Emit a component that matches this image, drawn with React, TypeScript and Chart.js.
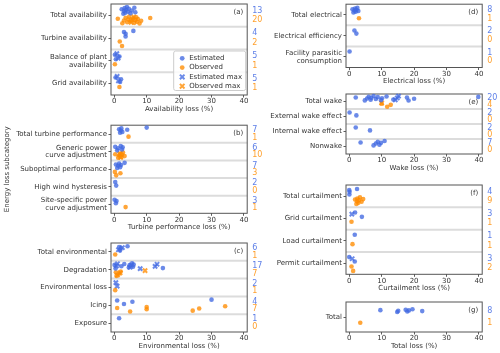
import React, { useEffect, useRef } from 'react';
import { Chart, registerables } from 'chart.js';

Chart.register(...registerables);

const FONT = 'DejaVu Sans';
const TEXT = '#333333';
const FRAME = '#555555';
const SEP = '#dcdcdc';
const BLUE = 'rgba(65,105,225,0.78)';
const ORANGE = 'rgba(255,140,0,0.78)';
const BLUE_TXT = 'rgb(95,128,232)';
const ORANGE_TXT = 'rgb(255,160,45)';

const X_TICKS = [0, 10, 20, 30, 40];
const X_MIN = -1;
const X_MAX = 41;

// (a) availability
const availCats = ['Total availability', 'Turbine availability', ['Balance of plant', 'availability'], 'Grid availability'];
const availEst = [[2.3, 2.8, 3.0, 3.2, 3.4, 3.6, 3.9, 4.2, 4.5, 5.0, 5.4, 6.2, 6.5], [3.0, 3.5, 3.5, 5.9], [0.2, 0.5, 1.6], [0.4, 1.8, 2.1]];
const availEstMax = [[], [], [0.8, 1.2], [0.9, 1.3]];
const availObs = [[1.1, 2.5, 3.0, 3.5, 4.0, 4.3, 4.6, 5.0, 5.8, 6.2, 6.5, 6.8, 7.0, 7.3, 7.8, 8.3, 11.1], [1.7, 2.4], [0.2], [1.6]];
const availObsMax = [[5.2, 5.5, 6.0], [], [], []];

// (b) turbine performance
const perfCats = ['Total turbine performance', ['Generic power', 'curve adjustment'], 'Suboptimal performance', 'High wind hysteresis', ['Site-specific power', 'curve adjustment']];
const perfEst = [[1.5, 1.8, 2.0, 2.2, 2.5, 4.0, 10.0], [0.3, 0.9, 1.2, 2.0, 2.4, 2.6], [0.5, 0.9, 1.2, 1.5, 1.8, 2.1, 3.2], [0.3, 0.6], [0.1, 0.5, 0.7]];
const perfEstMax = [[], [], [], [], []];
const perfObs = [[4.4], [0.3, 1.2, 1.5, 1.9, 2.2, 2.4, 2.7, 3.2], [0.2, 0.6, 1.9], [], [3.5]];
const perfObsMax = [[], [1.7, 2.0], [], [], []];

// (c) environmental
const envCats = ['Total environmental', 'Degradation', 'Environmental loss', 'Icing', 'Exposure'];
const envEst = [[1.5, 1.8, 2.0, 4.1], [0.1, 0.4, 2.2, 3.1, 4.5, 4.7, 5.5, 5.8, 6.0, 15.0], [], [0.9, 3.0, 5.6, 30.0], [1.5]];
const envEstMax = [[1.3, 2.5], [0.7, 1.0, 4.9, 5.2, 8.0, 12.6, 13.2], [0.5, 0.9], [], []];
const envObs = [[0.3], [0.5, 0.7, 1.5, 2.0], [0.3], [0.9, 4.9, 10.0, 10.0, 24.2, 26.2, 34.2], []];
const envObsMax = [[], [1.0, 1.8, 9.5], [], [], []];

// (d) electrical
const elecCats = ['Total electrical', 'Electrical efficiency', ['Facility parasitic', 'consumption']];
const elecEst = [[1.0, 1.3, 1.6, 1.8, 2.0, 2.2, 2.5, 2.8], [1.6, 2.2], [0.1]];
const elecEstMax = [[], [], []];
const elecObs = [[3.0], [], []];
const elecObsMax = [[], [], []];

// (e) wake
const wakeCats = ['Total wake', 'External wake effect', 'Internal wake effect', 'Nonwake'];
const wakeEst = [[2.0, 4.8, 5.5, 6.0, 6.6, 6.8, 7.5, 8.2, 8.8, 9.8, 10.1, 11.5, 13.6, 17.8, 18.3, 20.0, 39.8], [0.1, 2.2], [2.0, 6.4], [3.5, 7.5, 8.2, 8.8, 9.3, 9.8, 10.9]];
const wakeEstMax = [[14.2, 14.8, 15.2], [], [], []];
const wakeObs = [[10.0, 11.7, 12.8], [], [], []];
const wakeObsMax = [[10.0], [], [], []];

// (f) curtailment
const curtCats = ['Total curtailment', 'Grid curtailment', 'Load curtailment', 'Permit curtailment'];
const curtEst = [[0.0, 0.05, 0.1, 2.4], [1.8, 3.9], [1.7], [0.0, 1.7]];
const curtEstMax = [[], [0.8], [], [0.9]];
const curtObs = [[1.8, 2.2, 2.4, 2.5, 2.8, 3.0, 3.3, 3.8, 4.3], [0.7], [1.0], [0.7, 1.2]];
const curtObsMax = [[], [], [], []];

// (g) total
const totalCats = ['Total'];
const totalEst = [[9.6, 14.8, 15.1, 17.4, 17.9, 18.4, 19.5, 22.5]];
const totalEstMax = [[]];
const totalObs = [[3.4]];
const totalObsMax = [[]];

const SERIES_LABELS = ['Estimated', 'Observed', 'Estimated max', 'Observed max'];

type Panel = {
  cats: (string | string[])[];
  est: number[][];
  estMax: number[][];
  obs: number[][];
  obsMax: number[][];
  xTitle: string;
  tag: string;
  col: 'L' | 'R';
  top: number;
  bottom: number;
  jitter: number;
  legend?: boolean;
  yTitle?: string;
};

const COLS = {
  L: { left: 0, width: 264, plotLeft: 111, plotRight: 247.2 },
  R: { left: 264, width: 236, plotLeft: 82, plotRight: 218.2 },
};

const PANELS: Panel[] = [
  { cats: availCats, est: availEst, estMax: availEstMax, obs: availObs, obsMax: availObsMax, xTitle: 'Availability loss (%)', tag: '(a)', col: 'L', top: 1.5, bottom: 95, jitter: 0.16, legend: true },
  { cats: perfCats, est: perfEst, estMax: perfEstMax, obs: perfObs, obsMax: perfObsMax, xTitle: 'Turbine performance loss (%)', tag: '(b)', col: 'L', top: 122.3, bottom: 213.3, jitter: 0.16, yTitle: 'Energy loss subcategory' },
  { cats: envCats, est: envEst, estMax: envEstMax, obs: envObs, obsMax: envObsMax, xTitle: 'Environmental loss (%)', tag: '(c)', col: 'L', top: 240.3, bottom: 332, jitter: 0.16 },
  { cats: elecCats, est: elecEst, estMax: elecEstMax, obs: elecObs, obsMax: elecObsMax, xTitle: 'Electrical loss (%)', tag: '(d)', col: 'R', top: 1.5, bottom: 67.5, jitter: 0.12 },
  { cats: wakeCats, est: wakeEst, estMax: wakeEstMax, obs: wakeObs, obsMax: wakeObsMax, xTitle: 'Wake loss (%)', tag: '(e)', col: 'R', top: 91, bottom: 154, jitter: 0.16 },
  { cats: curtCats, est: curtEst, estMax: curtEstMax, obs: curtObs, obsMax: curtObsMax, xTitle: 'Curtailment loss (%)', tag: '(f)', col: 'R', top: 182, bottom: 274.3, jitter: 0.16 },
  { cats: totalCats, est: totalEst, estMax: totalEstMax, obs: totalObs, obsMax: totalObsMax, xTitle: 'Total loss (%)', tag: '(g)', col: 'R', top: 299.5, bottom: 332, jitter: 0.05 },
];

const OFF = 0.21;
const X_AXIS_H = 18;

function jit(k: number, amp: number) {
  const f = (k * 0.6180339887 + 0.31) % 1;
  return (f - 0.5) * 2 * amp;
}

function buildPoints(groups: number[][], startGroups: number[][] | null, side: number, amp: number) {
  const pts: { x: number; y: number }[] = [];
  groups.forEach((vals, i) => {
    const start = startGroups ? startGroups[i].length : 0;
    vals.forEach((v, k) => {
      pts.push({ x: v, y: i + side * OFF + jit(start + k, amp) });
    });
  });
  return pts;
}

function PanelChart({ p }: { p: Panel }) {
  const ref = useRef<HTMLCanvasElement>(null);
  const col = COLS[p.col];
  const canvasTop = Math.floor(p.top) - 6;
  const padTop = p.top - canvasTop;
  const canvasBottom = Math.ceil(p.bottom + X_AXIS_H);
  const padBottom = canvasBottom - (p.bottom + X_AXIS_H);
  const height = canvasBottom - canvasTop;

  useEffect(() => {
    const n = p.cats.length;
    const counts: number[] = [];
    const countTicks: number[] = [];
    for (let i = 0; i < n; i++) {
      counts.push(p.est[i].length + p.estMax[i].length, p.obs[i].length + p.obsMax[i].length);
      countTicks.push(i - OFF, i + OFF);
    }

    const decor = {
      id: 'decor' + p.tag,
      beforeDatasetsDraw(chart: any) {
        const { ctx, chartArea } = chart;
        const ys = chart.scales.y;
        ctx.save();
        ctx.strokeStyle = SEP;
        ctx.lineWidth = 2;
        for (let i = 1; i < n; i++) {
          const y = ys.getPixelForValue(i - 0.5);
          ctx.beginPath();
          ctx.moveTo(chartArea.left, y);
          ctx.lineTo(chartArea.right, y);
          ctx.stroke();
        }
        ctx.strokeStyle = FRAME;
        ctx.lineWidth = 1;
        ctx.strokeRect(chartArea.left, chartArea.top, chartArea.right - chartArea.left, chartArea.bottom - chartArea.top);
        ctx.restore();
      },
      afterDatasetsDraw(chart: any) {
        const { ctx, chartArea } = chart;
        ctx.save();
        ctx.font = `7px "${FONT}"`;
        ctx.fillStyle = TEXT;
        ctx.textAlign = 'right';
        ctx.textBaseline = 'middle';
        ctx.fillText(p.tag, chartArea.right - 4, chartArea.top + 8);
        if (p.legend) {
          const w = 72;
          const h = 39.5;
          const x0 = chartArea.right - 1.5 - w;
          const y0 = chartArea.bottom - 4.5 - h;
          ctx.fillStyle = 'rgba(255,255,255,0.85)';
          ctx.strokeStyle = '#cccccc';
          ctx.lineWidth = 1;
          ctx.beginPath();
          (ctx as any).roundRect(x0, y0, w, h, 2);
          ctx.fill();
          ctx.stroke();
          chart.data.datasets.forEach((ds: any, idx: number) => {
            const cy = y0 + 7.3 + idx * 9.3;
            const mx = x0 + 8.5;
            const color = ds.pointStyle === 'circle' ? ds.backgroundColor : ds.borderColor;
            if (ds.pointStyle === 'circle') {
              ctx.fillStyle = color;
              ctx.beginPath();
              ctx.arc(mx, cy, 2.4, 0, Math.PI * 2);
              ctx.fill();
            } else {
              ctx.strokeStyle = color;
              ctx.lineWidth = 2;
              ctx.beginPath();
              ctx.moveTo(mx - 2.3, cy - 2.3);
              ctx.lineTo(mx + 2.3, cy + 2.3);
              ctx.moveTo(mx + 2.3, cy - 2.3);
              ctx.lineTo(mx - 2.3, cy + 2.3);
              ctx.stroke();
            }
            ctx.fillStyle = TEXT;
            ctx.textAlign = 'left';
            ctx.fillText(ds.label, x0 + 15.5, cy);
          });
        }
        ctx.restore();
      },
    };

    const circle = (label: string, color: string, data: any[]) => ({
      label, data, pointStyle: 'circle', backgroundColor: color, borderColor: color,
      pointRadius: 2.3, pointBorderWidth: 0, pointHoverRadius: 2.3, clip: false as any, showLine: false,
    });
    const cross = (label: string, color: string, data: any[]) => ({
      label, data, pointStyle: 'crossRot', backgroundColor: color, borderColor: color,
      pointRadius: 3, pointBorderWidth: 2, pointHoverRadius: 3, clip: false as any, showLine: false,
    });

    const chart = new Chart(ref.current as HTMLCanvasElement, {
      type: 'scatter',
      data: {
        datasets: [
          circle(SERIES_LABELS[0], BLUE, buildPoints(p.est, null, -1, p.jitter)),
          circle(SERIES_LABELS[1], ORANGE, buildPoints(p.obs, null, 1, p.jitter)),
          cross(SERIES_LABELS[2], BLUE, buildPoints(p.estMax, p.est, -1, p.jitter)),
          cross(SERIES_LABELS[3], ORANGE, buildPoints(p.obsMax, p.obs, 1, p.jitter)),
        ] as any,
      },
      options: {
        animation: false,
        responsive: false,
        maintainAspectRatio: false,
        events: [],
        layout: { padding: { top: padTop, bottom: padBottom, left: 0, right: 0 } },
        plugins: { legend: { display: false }, tooltip: { enabled: false } },
        scales: {
          x: {
            type: 'linear', position: 'bottom', min: X_MIN, max: X_MAX,
            afterBuildTicks: (s: any) => { s.ticks = X_TICKS.map((v) => ({ value: v })); },
            afterFit: (s: any) => { s.height = X_AXIS_H; },
            ticks: { font: { family: FONT, size: 7, lineHeight: 1 }, color: TEXT, padding: 0.5, maxRotation: 0, autoSkip: false },
            grid: { drawOnChartArea: false, drawTicks: true, tickLength: 2.5, color: TEXT, lineWidth: 0.8 },
            border: { display: false },
            title: { display: true, text: p.xTitle, font: { family: FONT, size: 7, lineHeight: 1.2 }, color: TEXT, padding: 0 },
          },
          y: {
            type: 'linear', position: 'left', min: -0.5, max: n - 0.5, reverse: true,
            afterBuildTicks: (s: any) => { s.ticks = p.cats.map((_, i) => ({ value: i })); },
            afterFit: (s: any) => { s.width = col.plotLeft; },
            ticks: {
              callback: (v: any) => p.cats[Math.round(Number(v))] as any,
              font: { family: FONT, size: 7, lineHeight: 1.1 }, color: TEXT, padding: 1.5, autoSkip: false,
            },
            grid: { drawOnChartArea: false, drawTicks: true, tickLength: 2.5, color: TEXT, lineWidth: 0.8 },
            border: { display: false },
            title: p.yTitle
              ? { display: true, text: p.yTitle, font: { family: FONT, size: 7, lineHeight: 1.2 }, color: TEXT, padding: { top: 3.3, bottom: 0 } }
              : { display: false },
          },
          y2: {
            type: 'linear', position: 'right', min: -0.5, max: n - 0.5, reverse: true,
            afterBuildTicks: (s: any) => { s.ticks = countTicks.map((v) => ({ value: v })); },
            afterFit: (s: any) => { s.width = col.width - col.plotRight; },
            ticks: {
              callback: (_v: any, idx: number) => String(counts[idx]),
              color: (ctx: any) => (ctx.index % 2 === 0 ? BLUE_TXT : ORANGE_TXT),
              font: { family: FONT, size: 8, lineHeight: 1 }, padding: 5, autoSkip: false,
            },
            grid: { display: false, drawTicks: false, drawOnChartArea: false },
            border: { display: false },
          },
        },
      } as any,
      plugins: [decor],
    });
    return () => chart.destroy();
  }, []);

  return (
    <canvas
      ref={ref}
      width={col.width}
      height={height}
      style={{ position: 'absolute', left: col.left, top: canvasTop, width: col.width, height }}
    />
  );
}

export default function App() {
  return (
    <div style={{ position: 'absolute', left: 0, top: 0, width: 500, height: 353, background: '#ffffff', overflow: 'hidden' }}>
      {PANELS.map((p) => (
        <PanelChart key={p.tag} p={p} />
      ))}
    </div>
  );
}
